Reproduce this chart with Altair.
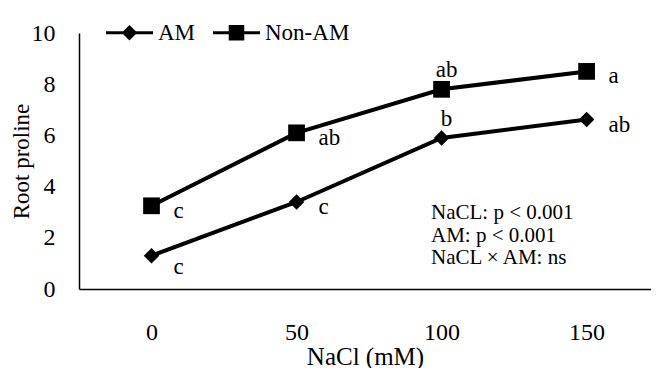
import altair as alt
import pandas as pd

# ---- data ----
nacl = [0, 50, 100, 150]
am_values = [1.3, 3.4, 5.9, 6.62]
nonam_values = [3.25, 6.1, 7.8, 8.5]
am_letters = ["c", "c", "b", "ab"]
nonam_letters = ["c", "ab", "ab", "a"]
series_names = ["AM", "Non-AM"]
stats_lines = ["NaCL: p < 0.001", "AM: p < 0.001", "NaCL \u00d7 AM: ns"]
y_ticks = [0, 2, 4, 6, 8, 10]

rows = []
for x, v, l in zip(nacl, am_values, am_letters):
    rows.append({"nacl": x, "value": v, "series": "AM", "letter": l})
for x, v, l in zip(nacl, nonam_values, nonam_letters):
    rows.append({"nacl": x, "value": v, "series": "Non-AM", "letter": l})
df = pd.DataFrame(rows)

FONT = "Liberation Serif"

# legend symbols: a line with a marker on it
legend_diamond = "M-1,-0.065H1V0.065H-1Z M0,-0.33L0.33,0L0,0.33L-0.33,0Z"
legend_square = "M-1,-0.065H1V0.065H-1Z M-0.33,-0.33H0.33V0.33H-0.33Z"

x_enc = alt.X(
    "nacl:Q",
    scale=alt.Scale(domain=[-25, 172.2], nice=False, zero=False),
    axis=alt.Axis(
        values=nacl, ticks=False, grid=False, domainColor="black",
        domainWidth=1.5, labelFont=FONT, labelFontSize=24, labelColor="black",
        labelPadding=31, title="NaCl (mM)", titleFont=FONT, titleFontSize=25,
        titleFontWeight="normal", titleColor="black", titlePadding=0,
    ),
)
y_enc = alt.Y(
    "value:Q",
    scale=alt.Scale(domain=[0, 10], nice=False),
    axis=alt.Axis(
        values=y_ticks, ticks=False, grid=False, domainColor="black",
        domainWidth=1.5, labelFont=FONT, labelFontSize=24, labelColor="black",
        labelPadding=24, title="Root proline", titleFont=FONT, titleFontSize=23,
        titleFontWeight="normal", titleColor="black", titlePadding=-2,
    ),
)

base = alt.Chart(df)

lines = base.mark_line(color="black", strokeWidth=4).encode(
    x=x_enc, y=y_enc, detail="series:N"
)

points = base.mark_point(filled=True, color="black", opacity=1).encode(
    x="nacl:Q",
    y="value:Q",
    shape=alt.Shape(
        "series:N",
        scale=alt.Scale(domain=series_names, range=["diamond", "square"]),
        legend=None,
    ),
    size=alt.Size(
        "series:N",
        scale=alt.Scale(domain=series_names, range=[240, 280]),
        legend=None,
    ),
)

legend_layer = base.mark_point(filled=True, color="black", opacity=0).encode(
    x="nacl:Q",
    y="value:Q",
    shape=alt.Shape(
        "series:N",
        scale=alt.Scale(domain=series_names, range=[legend_diamond, legend_square]),
        legend=alt.Legend(
            title=None, orient="none", direction="horizontal",
            legendX=27, legendY=-24, symbolSize=2209, symbolOpacity=1,
            symbolFillColor="black", symbolStrokeWidth=0,
            labelFont=FONT, labelFontSize=23, labelColor="black",
            labelOffset=5, columnPadding=17, padding=0,
        ),
    ),
)

text_right = base.transform_filter(
    (alt.datum.nacl != 100) & ((alt.datum.nacl != 0) | (alt.datum.series != "AM"))
).mark_text(
    align="left", baseline="middle", dx=22, dy=5, font=FONT, fontSize=23, color="black"
).encode(x="nacl:Q", y="value:Q", text="letter:N")

text_low = base.transform_filter(
    (alt.datum.nacl == 0) & (alt.datum.series == "AM")
).mark_text(
    align="left", baseline="middle", dx=22, dy=11, font=FONT, fontSize=23, color="black"
).encode(x="nacl:Q", y="value:Q", text="letter:N")

text_above = base.transform_filter(alt.datum.nacl == 100).mark_text(
    align="center", baseline="middle", dx=5, dy=-19, font=FONT, fontSize=23, color="black"
).encode(x="nacl:Q", y="value:Q", text="letter:N")

stats = alt.Chart(pd.DataFrame({"t": [stats_lines]})).mark_text(
    align="left", baseline="middle", font=FONT, fontSize=21, color="black",
    lineHeight=22.5,
).encode(x=alt.value(352), y=alt.value(180), text="t")

chart = (
    alt.layer(lines, points, legend_layer, text_right, text_low, text_above, stats)
    .resolve_scale(shape="independent", size="independent")
    .properties(
        width=572, height=256,
        autosize=alt.AutoSizeParams(type="none"),
        padding={"left": 71, "top": 25, "right": 0, "bottom": 79},
        background="white",
    )
    .configure_view(stroke=None)
)

chart.save("out.html", embed_options={"renderer": "svg", "actions": False})
